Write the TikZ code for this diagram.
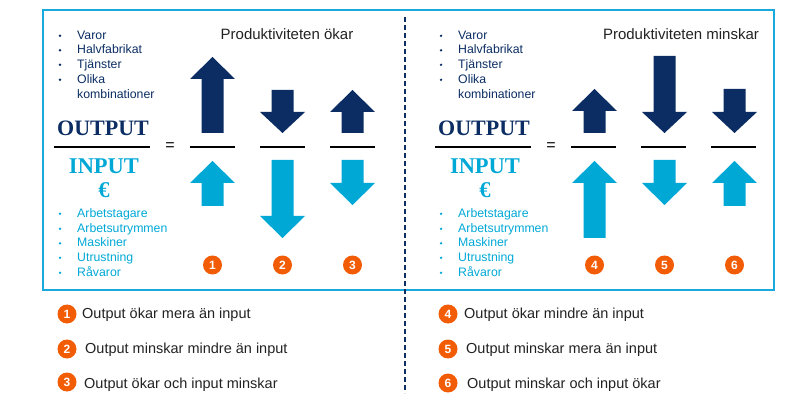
\documentclass[tikz,border=0pt]{standalone}
\usepackage{fontspec}
\setmainfont{Liberation Sans}
\newfontfamily\serifb{Liberation Serif}
\definecolor{navy}{HTML}{0B2D63}
\definecolor{lblue}{HTML}{00A8D6}
\definecolor{frameblue}{HTML}{1AA9DC}
\definecolor{orng}{HTML}{F25C05}
\definecolor{txt}{HTML}{222222}
\newcommand\myup[5]{\fill[#5] (#1,#2) -- (#1+22.5,#3) -- (#1+11,#3) -- (#1+11,#4) -- (#1-11,#4) -- (#1-11,#3) -- (#1-22.5,#3) -- cycle;}
\newcommand\mydn[5]{\fill[#5] (#1-11,#2) -- (#1+11,#2) -- (#1+11,#3) -- (#1+22.5,#3) -- (#1,#4) -- (#1-22.5,#3) -- (#1-11,#3) -- cycle;}
\begin{document}
\begin{tikzpicture}[x=1pt,y=-1pt,
  outitem/.style={anchor=base west,inner sep=0pt,text=navy,font=\fontsize{12.3}{12.3}\selectfont},
  initem/.style={anchor=base west,inner sep=0pt,text=lblue,font=\fontsize{12.3}{12.3}\selectfont},
  bul/.style={circle,inner sep=0pt,minimum size=2.6pt},
  title/.style={inner sep=0pt,text=txt,font=\fontsize{15}{15}\selectfont},
  bigout/.style={inner sep=0pt,text=navy,font=\serifb\bfseries\fontsize{22}{22}\selectfont},
  bigin/.style={inner sep=0pt,text=lblue,font=\serifb\bfseries\fontsize{22.5}{22.5}\selectfont},
  num/.style={circle,fill=orng,text=white,inner sep=0pt,minimum size=19pt,font=\bfseries\fontsize{12}{12}\selectfont},
  legend/.style={anchor=west,inner sep=0pt,text=txt,font=\fontsize{14.5}{14.5}\selectfont},
  fracline/.style={line width=1.4pt,black},
  eqs/.style={inner sep=0pt,font=\fontsize{16}{16}\selectfont}]
\useasboundingbox (0,0) rectangle (790,414);
\draw[frameblue,line width=2pt] (43,10) rectangle (774,290);
\draw[navy,line width=2.2pt,dash pattern=on 5pt off 3pt] (405,17) -- (405,393);

\foreach \ox/\s in {0/L,381/R}{
  \begin{scope}[xshift=\ox]
    \node[outitem] (v\s) at (77,39.3) {Varor};
    \node[outitem] (h\s) at (77,53.8) {Halvfabrikat};
    \node[outitem] (t\s) at (77,68.3) {Tjänster};
    \node[outitem] (o\s) at (77,83.3) {Olika};
    \node[outitem] (k\s) at (77,98.3) {kombinationer};
    \foreach \y [count=\i] in {35,49.5,64,79}{\node[bul,fill=navy] (bo\s\i) at (60,\y+0.8) {};}
    \node[bigout] (out\s) at (103,128) {OUTPUT};
    \draw[fracline] (54,147) -- (150,147);
    \node[eqs] (eq\s) at (170,147) {=};
    \node[bigin] (in\s) at (104,166) {INPUT};
    \node[bigin] (eur\s) at (104,190) {€};
    \node[initem] (a\s) at (77,217.3) {Arbetstagare};
    \node[initem] (au\s) at (77,232.3) {Arbetsutrymmen};
    \node[initem] (m\s) at (77,246.8) {Maskiner};
    \node[initem] (u\s) at (77,261.3) {Utrustning};
    \node[initem] (r\s) at (77,276.3) {Råvaror};
    \foreach \y [count=\i] in {213,228,242.5,257,272}{\node[bul,fill=lblue] (bi\s\i) at (60,\y+0.8) {};}
    \foreach \c in {212.5,282.5,352.5}{\draw[fracline] (\c-22.5,147) -- (\c+22.5,147);}
  \end{scope}
}
\node[title] (t1) at (287,34) {Produktiviteten ökar};
\node[title] (t2) at (681,34) {Produktiviteten minskar};

% arrows left
\myup{212.5}{57}{79}{133}{navy}
\mydn{282.5}{90}{112}{133}{navy}
\myup{352.5}{90}{112}{133}{navy}
\myup{212.5}{161}{183}{206}{lblue}
\mydn{282.5}{160}{216}{238}{lblue}
\mydn{352.5}{160}{183}{205}{lblue}
% arrows right
\myup{594.5}{89}{111}{133}{navy}
\mydn{664.5}{56}{112}{133}{navy}
\mydn{734.5}{89}{112}{133}{navy}
\myup{594.5}{161}{183}{238}{lblue}
\mydn{664.5}{160}{183}{205}{lblue}
\myup{734.5}{161}{183}{206}{lblue}

\node[num] (n1) at (212.5,265) {1};
\node[num] (n2) at (282.5,265) {2};
\node[num] (n3) at (352.5,265) {3};
\node[num] (n4) at (594.5,265) {4};
\node[num] (n5) at (664.5,265) {5};
\node[num] (n6) at (734.5,265) {6};

\node[num] (l1) at (67,314) {1};
\node[num] (l2) at (67,349) {2};
\node[num] (l3) at (67,382) {3};
\node[num] (l4) at (448,314) {4};
\node[num] (l5) at (448,349) {5};
\node[num] (l6) at (448,383) {6};
\node[legend] (lt1) at (82,315) {Output ökar mera än input};
\node[legend] (lt2) at (85,350) {Output minskar mindre än input};
\node[legend] (lt3) at (84,385) {Output ökar och input minskar};
\node[legend] (lt4) at (464,315) {Output ökar mindre än input};
\node[legend] (lt5) at (466,350) {Output minskar mera än input};
\node[legend] (lt6) at (467,385) {Output minskar och input ökar};
\end{tikzpicture}
\end{document}
